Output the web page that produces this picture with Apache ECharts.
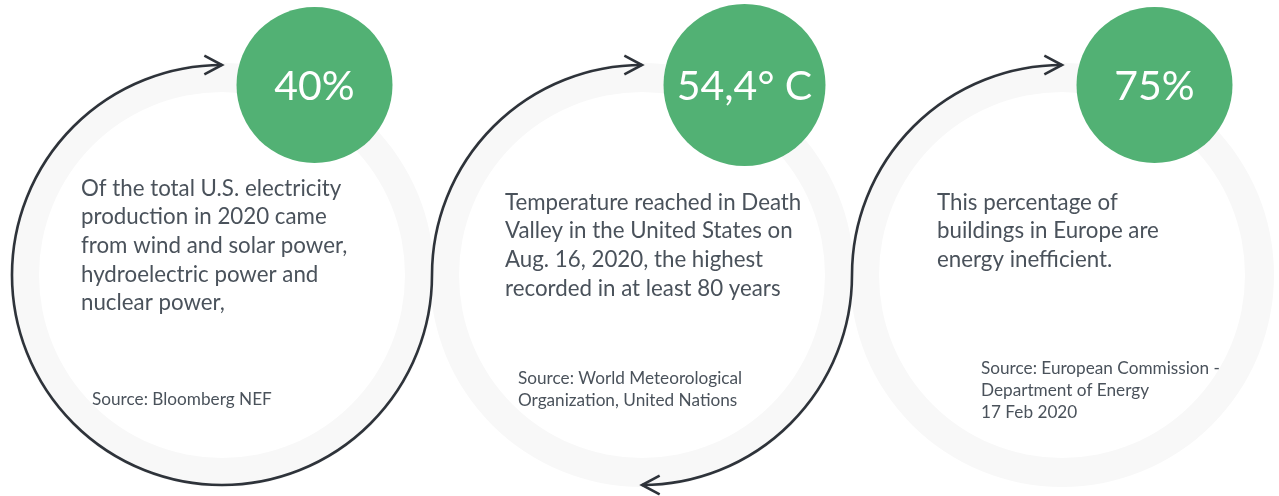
<!DOCTYPE html>
<html lang="en">
<head>
<meta charset="UTF-8">
<title>Energy facts</title>
<script src="https://cdn.jsdelivr.net/npm/echarts@6/dist/echarts.min.js"></script>
<style>
  html, body { margin: 0; padding: 0; background: #fff; }
  #main { width: 1279px; height: 496px; }
</style>
</head>
<body>
<div id="main"></div>
<script>
  // data
  var categories = ['electricity', 'temperature', 'buildings'];
  var values = ['40%', '54,4° C', '75%'];
  var descriptions = [
    'Of the total U.S. electricity\nproduction in 2020 came\nfrom wind and solar power,\nhydroelectric power and\nnuclear power,',
    'Temperature reached in Death\nValley in the United States on\nAug. 16, 2020, the highest\nrecorded in at least 80 years',
    'This percentage of\nbuildings in Europe are\nenergy inefficient.'
  ];
  var sources = [
    'Source: Bloomberg NEF',
    'Source: World Meteorological\nOrganization, United Nations',
    'Source: European Commission -\nDepartment of Energy\n17 Feb 2020'
  ];

  // layout (px, relative to the ring centre)
  var ringY = 275;
  var ringInner = 183, ringOuter = 212, lineR = 210;
  var PI = Math.PI;
  var layout = [
    { bubble: [92.5, -190, 78], text: [-141, -101], source: [-130, 114],
      arcs: [[-PI / 2, 0, false]], heads: [[-PI / 2, 1]] },
    { bubble: [102.5, -190, 81], text: [-137, -87], source: [-124, 93],
      arcs: [[PI, PI * 1.5, true], [0, PI / 2, true]], heads: [[-PI / 2, 1], [PI / 2, -1]] },
    { bubble: [92.5, -190, 78], text: [-125, -87], source: [-81, 83],
      arcs: [[PI, PI * 1.5, true]], heads: [[-PI / 2, 1]] }
  ];

  var green = '#52b174';
  var ringColor = '#f8f8f8';
  var lineColor = '#2e333a';
  var textColor = '#4a525b';
  var fontFamily = 'Lato, "Noto Sans", sans-serif';

  function arrowHead(cx, cy, ang, dir) {
    // tip on the circle, pointing along the tangent (dir 1 = right, -1 = left)
    var tx = cx + lineR * Math.cos(ang), ty = cy + lineR * Math.sin(ang);
    var len = 20, spread = 28 * PI / 180;
    var back = dir > 0 ? PI : 0;
    return [
      [tx + len * Math.cos(back - spread), ty + len * Math.sin(back - spread)],
      [tx, ty],
      [tx + len * Math.cos(back + spread), ty + len * Math.sin(back + spread)]
    ];
  }

  function renderItem(params, api) {
    var i = api.value(0);
    var cx = api.coord([i, 0])[0];
    var cy = ringY;
    var lay = layout[i];
    var children = [];

    children.push({
      type: 'ring', z2: 1,
      shape: { cx: cx, cy: cy, r: ringOuter, r0: ringInner },
      style: { fill: ringColor }
    });
    lay.arcs.forEach(function (a) {
      children.push({
        type: 'arc', z2: 2,
        shape: { cx: cx, cy: cy, r: lineR, startAngle: a[0], endAngle: a[1], clockwise: a[2] },
        style: { stroke: lineColor, lineWidth: 2.6, fill: null }
      });
    });
    lay.heads.forEach(function (h) {
      children.push({
        type: 'polyline', z2: 3,
        shape: { points: arrowHead(cx, cy, h[0], h[1]) },
        style: { stroke: lineColor, lineWidth: 2.6, fill: null, lineJoin: 'miter' }
      });
    });
    var bx = cx + lay.bubble[0], by = cy + lay.bubble[1];
    children.push({
      type: 'circle', z2: 4,
      shape: { cx: bx, cy: by, r: lay.bubble[2] },
      style: { fill: green }
    });
    children.push({
      type: 'text', z2: 5,
      style: {
        x: bx, y: by + 2, text: values[i], fill: '#fff',
        font: '400 41px ' + fontFamily, align: 'center', verticalAlign: 'middle'
      }
    });
    children.push({
      type: 'text', z2: 5,
      style: {
        x: cx + lay.text[0], y: cy + lay.text[1], text: descriptions[i], fill: textColor,
        font: '400 22.3px ' + fontFamily, lineHeight: 28.7, align: 'left', verticalAlign: 'top'
      }
    });
    children.push({
      type: 'text', z2: 5,
      style: {
        x: cx + lay.source[0], y: cy + lay.source[1], text: sources[i], fill: textColor,
        font: '400 17.2px ' + fontFamily, lineHeight: 21.7, align: 'left', verticalAlign: 'top'
      }
    });
    return { type: 'group', children: children };
  }

  var myChart = echarts.init(document.getElementById('main'));
  myChart.setOption({
    animation: false,
    grid: { left: 12, right: 7, top: 0, bottom: 0 },
    xAxis: { type: 'category', data: categories, show: false },
    yAxis: { type: 'value', show: false, min: 0, max: 1 },
    series: [{
      type: 'custom',
      renderItem: renderItem,
      data: categories.map(function (c, i) { return [i]; })
    }]
  });
</script>
</body>
</html>
